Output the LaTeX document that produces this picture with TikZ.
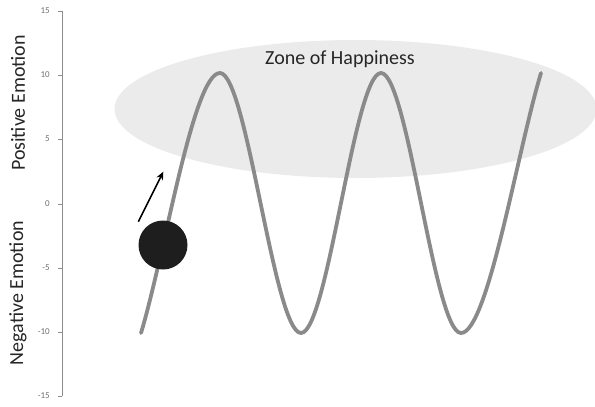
\documentclass[tikz,border=0pt]{standalone}
\usepackage{fontspec}
\setmainfont{Carlito}
\usetikzlibrary{arrows.meta}
\definecolor{wavegray}{HTML}{8A8A8A}
\definecolor{zonegray}{HTML}{EBEBEB}
\definecolor{axisgray}{HTML}{8C8C8C}
\definecolor{ticktext}{HTML}{707070}
\definecolor{balldark}{HTML}{1E1E1E}
\tikzset{
  wave/.style={draw=wavegray, line width=3.8pt, line cap=round},
  axisline/.style={draw=axisgray, line width=0.9pt},
  ticklabel/.style={font=\fontsize{9}{10}\selectfont, text=ticktext, anchor=east, inner sep=0pt},
  axislabel/.style={font=\fontsize{20}{22}\selectfont, text=black!85, rotate=90, inner sep=0pt},
  zonelabel/.style={font=\fontsize{20}{22}\selectfont, text=black!85, inner sep=0pt}
}
\begin{document}
\begin{tikzpicture}[x=1pt,y=-1pt]
\useasboundingbox (0,0) rectangle (595,407);
% zone ellipse
\fill[zonegray] (355.5,109) ellipse [x radius=241, y radius=69];
\node[zonelabel] (zone) at (340,59) {Zone of Happiness};
% axis
\draw[axisline] (62,11) -- (62,396);
\foreach \v/\y in {15/11,10/75,5/139,0/204,-5/268,-10/332,-15/396}{
  \draw[axisline] (58,\y) -- (62,\y);
  \node[ticklabel] at (50,\y) {\v};
}
\node[axislabel] (pos) at (18,103) {Positive Emotion};
\node[axislabel] (neg) at (18,293) {Negative Emotion};
% wave
\draw[wave] (141,333)
  .. controls (164.7,255) and (193.3,73) .. (220,73)
  .. controls (246.7,73) and (274.3,333) .. (301,333)
  .. controls (327.7,333) and (354.3,73) .. (381,73)
  .. controls (407.7,73) and (434.3,333) .. (461,333)
  .. controls (487.7,333) and (517.3,151) .. (541,73);
% ball
\fill[balldark] (163,245) circle [radius=24.5];
% arrow
\coordinate (atail) at (138.3,221.7);
\coordinate (ahead) at (163.3,171.7);
\draw[line width=1.6pt, -{Stealth[length=8pt,width=7pt]}] (atail) -- (ahead);
\end{tikzpicture}
\end{document}
